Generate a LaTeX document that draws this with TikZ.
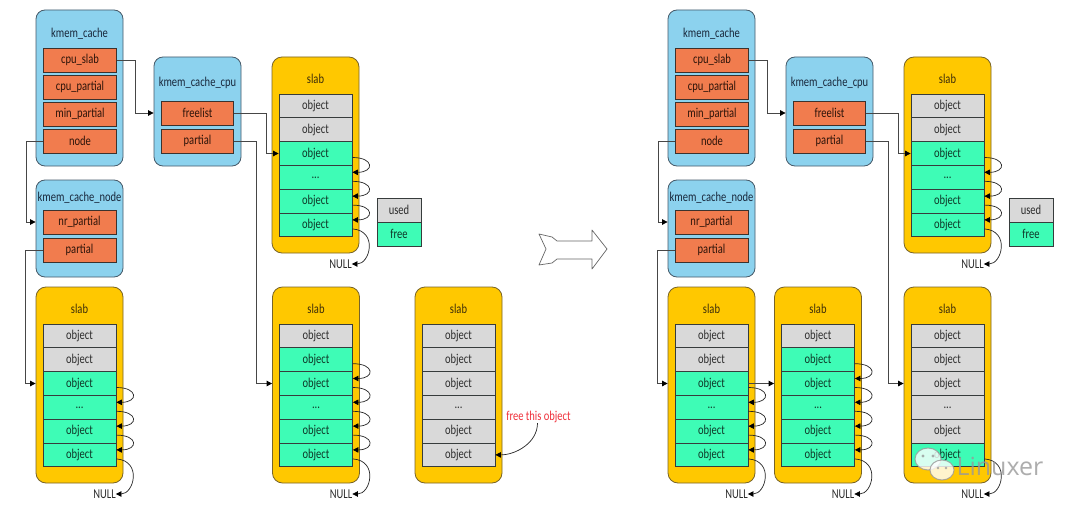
\documentclass[tikz,border=0pt]{standalone}
\usepackage{fontspec}
\setmainfont{Carlito}[FakeStretch=0.78]
\newfontfamily\wmfont{Open Sans}
\usetikzlibrary{arrows.meta,calc}
\definecolor{cblue}{RGB}{140,210,238}
\definecolor{corange}{RGB}{241,124,78}
\definecolor{cyellow}{RGB}{255,200,0}
\definecolor{cgray}{RGB}{217,217,217}
\definecolor{cgreen}{RGB}{62,252,182}
\definecolor{boxline}{RGB}{70,90,105}
\definecolor{fieldline}{RGB}{60,50,45}
\definecolor{slabline}{RGB}{120,100,40}
\definecolor{objline}{RGB}{55,60,60}
\definecolor{connline}{RGB}{70,70,70}
\definecolor{titletext}{RGB}{25,40,60}
\definecolor{fieldtext}{RGB}{45,20,10}
\definecolor{usedtext}{RGB}{45,45,45}
\definecolor{freetext}{RGB}{15,55,40}
\definecolor{slabtext}{RGB}{60,45,10}
\definecolor{cred}{RGB}{240,50,60}
\tikzset{
  base/.style={font=\fontsize{13.5}{15}\selectfont, inner sep=0pt},
  bluebox/.style={draw=boxline, fill=cblue, rounded corners=9pt, line width=0.8pt, minimum width=87pt},
  field/.style={base, draw=fieldline, fill=corange, line width=0.8pt, minimum width=73pt, minimum height=24pt, text=fieldtext},
  slabbox/.style={draw=slabline, fill=cyellow, rounded corners=10pt, line width=0.8pt, minimum width=87pt, minimum height=196pt},
  objrow/.style={base, draw=objline, line width=0.8pt, minimum width=73pt, minimum height=23.8pt},
  title/.style={base, text=titletext},
  slabtitle/.style={base, text=slabtext},
  conn/.style={draw=connline, line width=0.8pt, -{Triangle[length=5.5pt,width=5.5pt,color=black]}},
  looparr/.style={draw=black!85, line width=0.7pt, -{Triangle[length=5.5pt,width=5.5pt,color=black]}},
}
% slab: name, center x, top y, list of 0 (used) / 1 (free)
\newcommand\drawslab[4]{%
  \node[slabbox] (#1) at (#2, #3+98) {};
  \node[slabtitle] (#1t) at (#2, #3+22) {slab};
  \foreach \c [count=\i] in {#4} {
    \ifnum\c=1 \def\fc{cgreen}\def\tc{freetext}\else\def\fc{cgray}\def\tc{usedtext}\fi
    \ifnum\i=4 \def\lbl{...}\else\def\lbl{object}\fi
    \node[objrow, fill=\fc, text=\tc] (#1r\i) at (#2, #3+48.9+\i*23.8-23.8) {\lbl};
  }
}
% free-list loops: name, first row
\newcommand\slabloops[2]{%
  \foreach \i in {#2,...,5} {
    \pgfmathtruncatemacro\j{\i+1}
    \draw[looparr] ([yshift=-4pt]#1r\i.east) .. controls +(22,0) and +(22,0) .. ([yshift=5pt]#1r\j.east);
  }
}
% NULL: name, center x, top y
\newcommand\slabnull[3]{%
  \node[base, text=usedtext] (#1null) at (#2+25, #3+207) {NULL};
  \draw[looparr] ([yshift=-4pt]#1r6.east) .. controls +(26,2) and +(18,0) .. (#1null.east);
}
% kmem structures: suffix, dx
\newcommand\drawstructs[2]{%
  \node[bluebox, minimum height=156pt] (kc#1) at (79.5+#2, 88) {};
  \node[title] (kct#1) at (79.5+#2, 34) {kmem\_cache};
  \node[field] (cs#1) at (80+#2, 60) {cpu\_slab};
  \node[field] (cpp#1) at (80+#2, 87) {cpu\_partial};
  \node[field] (mp#1) at (80+#2, 114) {min\_partial};
  \node[field] (nd#1) at (80+#2, 141) {node};
  \node[bluebox, minimum height=109pt] (kcc#1) at (197.5+#2, 111.5) {};
  \node[title] (kcct#1) at (197.5+#2, 83) {kmem\_cache\_cpu};
  \node[field, minimum width=72pt] (fl#1) at (197.5+#2, 113) {freelist};
  \node[field, minimum width=72pt] (cp#1) at (197.5+#2, 141) {partial};
  \node[bluebox, minimum height=97pt] (kcn#1) at (79.5+#2, 228.5) {};
  \node[title] (kcnt#1) at (79.5+#2, 198) {kmem\_cache\_node};
  \node[field] (nrp#1) at (79.5+#2, 222) {nr\_partial};
  \node[field] (np#1) at (79.5+#2, 250) {partial};
  \node[objrow, fill=cgray, text=usedtext, minimum width=44pt] (used#1) at (399+#2, 210) {used};
  \node[objrow, fill=cgreen, text=freetext, minimum width=44pt] (free#1) at (399+#2, 234) {free};
}
\begin{document}
\begin{tikzpicture}[x=1pt,y=-1pt]
\useasboundingbox[fill=white] (0,0) rectangle (1080,511);

% ---------- left: before ----------
\drawstructs{L}{0}
\drawslab{tA}{315.5}{57}{0,0,1,1,1,1}
\slabloops{tA}{3}
\slabnull{tA}{315.5}{57}
\drawslab{bA}{79.5}{287}{0,0,1,1,1,1}
\slabloops{bA}{3}
\slabnull{bA}{79.5}{287}
\drawslab{bB}{316}{287}{0,1,1,1,1,1}
\slabloops{bB}{2}
\slabnull{bB}{316}{287}
\drawslab{bC}{458.5}{287}{0,0,0,0,0,0}

\draw[conn] (csL.east) -- ++(18,0) |- (kccL.west |- flL.center);
\draw[conn] (flL.east) -- ++(32,0) |- (tAr3.west);
\draw[conn] (cpL.east) -- ++(22,0) |- (bB.west |- bBr3.center);
\draw[conn] (ndL.west) -- ++(-17,0) |- (kcnL.west |- nrpL.center);
\draw[conn] (npL.west) -- ++(-17,0) |- (bA.west |- bAr3.center);

\node[base, text=cred] (freetxt) at (538.5, 417) {free this object};
\draw[looparr] ([xshift=-1pt]freetxt.south) .. controls +(0,20) and +(20,0) .. (bCr6.east);

% ---------- middle arrow ----------
\draw[draw=black!60, fill=white, line width=0.7pt, line join=round]
  (539,234) -- (552,237) -- (557,241) -- (592,241) -- (592,230) -- (607,249)
  -- (592,269) -- (592,259) -- (557,259) -- (552,263) -- (539,265) -- (546,249) -- cycle;

% ---------- right: after ----------
\drawstructs{R}{632}
\drawslab{tD}{947.5}{57}{0,0,1,1,1,1}
\slabloops{tD}{3}
\slabnull{tD}{947.5}{57}
\drawslab{bD}{711.5}{287}{0,0,1,1,1,1}
\slabloops{bD}{3}
\slabnull{bD}{711.5}{287}
\drawslab{bE}{818}{287}{0,1,1,1,1,1}
\slabloops{bE}{2}
\slabnull{bE}{818}{287}
\drawslab{bF}{947.5}{287}{0,0,0,0,0,1}
\slabnull{bF}{947.5}{287}

\draw[conn] (csR.east) -- ++(18,0) |- (kccR.west |- flR.center);
\draw[conn] (flR.east) -- ++(32,0) |- (tDr3.west);
\draw[conn] (cpR.east) -- ++(22,0) |- (bF.west |- bFr3.center);
\draw[conn] (ndR.west) -- ++(-17,0) |- (kcnR.west |- nrpR.center);
\draw[conn] (npR.west) -- ++(-17,0) |- (bD.west |- bDr3.center);
\draw[conn] (bDr3.east) -- (bE.west |- bDr3.center);

% ---------- watermark ----------
\begin{scope}[opacity=0.8]
  \draw[black!40, fill=white, line width=1pt] (928,459) ellipse [x radius=13, y radius=11];
  \draw[black!40, fill=white, line width=1pt] (942,470) ellipse [x radius=12, y radius=10];
  \fill[black!40] (923,456) circle (1.6) (933,456) circle (1.6) (938,468) circle (1.4) (946,468) circle (1.4);
  \node[text=black!40, font=\wmfont\fontsize{25}{25}\selectfont, inner sep=0pt] (wm) at (1000,466) {Linuxer};
\end{scope}
\end{tikzpicture}
\end{document}
